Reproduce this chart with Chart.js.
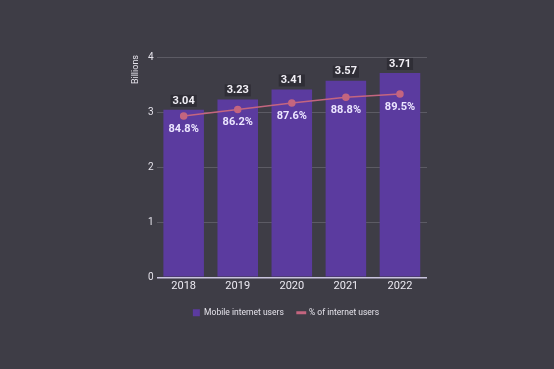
<!DOCTYPE html>
<html>
<head>
<meta charset="utf-8">
<script src="https://cdn.jsdelivr.net/npm/chart.js@4"></script>
<style>
  html, body { margin: 0; padding: 0; background: #3e3d46; }
  #wrap { width: 554px; height: 369px; }
</style>
</head>
<body>
<div id="wrap"><canvas id="myChart" width="554" height="369"></canvas></div>
<script>
// Chart data
var years = ["2018", "2019", "2020", "2021", "2022"];
var mobileUsers = [3.04, 3.23, 3.41, 3.57, 3.71];
var pctInternet = [84.8, 86.2, 87.6, 88.8, 89.5];
var yTicks = [0, 1, 2, 3, 4];

var FONT = "'Roboto', sans-serif";

// Draws value labels above bars, below line points, and the axis title
var labelPlugin = {
    id: "valueLabels",
    afterDatasetsDraw: function (chart) {
        var ctx = chart.ctx;
        ctx.save();
        ctx.textAlign = "center";
        ctx.textBaseline = "middle";

        var bars = chart.getDatasetMeta(1).data;
        ctx.font = "bold 11px " + FONT;
        bars.forEach(function (bar, i) {
            var txt = mobileUsers[i].toFixed(2);
            var w = ctx.measureText(txt).width;
            var y = bar.y - 9;
            ctx.fillStyle = "rgba(45,44,52,0.85)";
            ctx.fillRect(bar.x - w / 2 - 2, y - 6, w + 4, 12);
            ctx.fillStyle = "#f2f0f6";
            ctx.fillText(txt, bar.x, y);
        });

        var pts = chart.getDatasetMeta(0).data;
        pts.forEach(function (pt, i) {
            ctx.fillStyle = "#ece6ff";
            ctx.fillText(pctInternet[i].toFixed(1) + "%", pt.x, pt.y + 13);
        });

        // y axis title
        ctx.translate(136, chart.chartArea.top - 2);
        ctx.rotate(-Math.PI / 2);
        ctx.textAlign = "right";
        ctx.font = "9px " + FONT;
        ctx.fillStyle = "#e4e2ea";
        ctx.fillText("Billions", 0, 0);
        ctx.restore();
    }
};

var chartData = {
    labels: years,
    datasets: [
        {
            type: "line",
            label: "% of internet users",
            data: pctInternet,
            yAxisID: "y2",
            borderColor: "#c4657f",
            backgroundColor: "#c4657f",
            borderWidth: 1.5,
            pointRadius: 3,
            pointHoverRadius: 3,
            order: 0
        },
        {
            type: "bar",
            label: "Mobile internet users",
            data: mobileUsers,
            yAxisID: "y",
            backgroundColor: "#5b3b9f",
            borderWidth: 0,
            categoryPercentage: 0.75,
            barPercentage: 1,
            order: 1
        }
    ]
};

var config = {
    data: chartData,
    plugins: [labelPlugin],
    options: {
        responsive: false,
        animation: false,
        layout: { padding: { left: 145, right: 127, top: 57, bottom: 42 } },
        plugins: {
            tooltip: { enabled: false },
            legend: {
                position: "bottom",
                reverse: true,
                labels: {
                    color: "#e4e2ea",
                    font: { family: FONT, size: 8.5 },
                    usePointStyle: true,
                    boxWidth: 7,
                    boxHeight: 7,
                    padding: 14,
                    generateLabels: function (chart) {
                        var items = Chart.defaults.plugins.legend.labels.generateLabels(chart);
                        items.forEach(function (it) {
                            if (it.text === "Mobile internet users") {
                                it.pointStyle = "rect";
                            } else {
                                it.pointStyle = "line";
                                it.lineWidth = 3;
                            }
                        });
                        return items;
                    }
                }
            }
        },
        scales: {
            x: {
                grid: { display: false, drawTicks: false },
                border: { display: false },
                ticks: { color: "#eceaf2", font: { family: FONT, size: 11 }, padding: 2 }
            },
            y: {
                min: 0,
                max: 4,
                afterBuildTicks: function (axis) {
                    axis.ticks = yTicks.map(function (v) { return { value: v }; });
                },
                border: { display: false },
                grid: {
                    drawTicks: false,
                    color: function (c) { return c.tick && c.tick.value === 0 ? "#c9c4de" : "#5c5b64"; },
                    lineWidth: function (c) { return c.tick && c.tick.value === 0 ? 1.5 : 1; }
                },
                ticks: { color: "#e4e2ea", font: { family: FONT, size: 10 }, padding: 3 }
            },
            y2: {
                display: false,
                min: 50,
                max: 97.5
            }
        }
    }
};

var myChart = new Chart(document.getElementById("myChart"), config);
</script>
</body>
</html>
